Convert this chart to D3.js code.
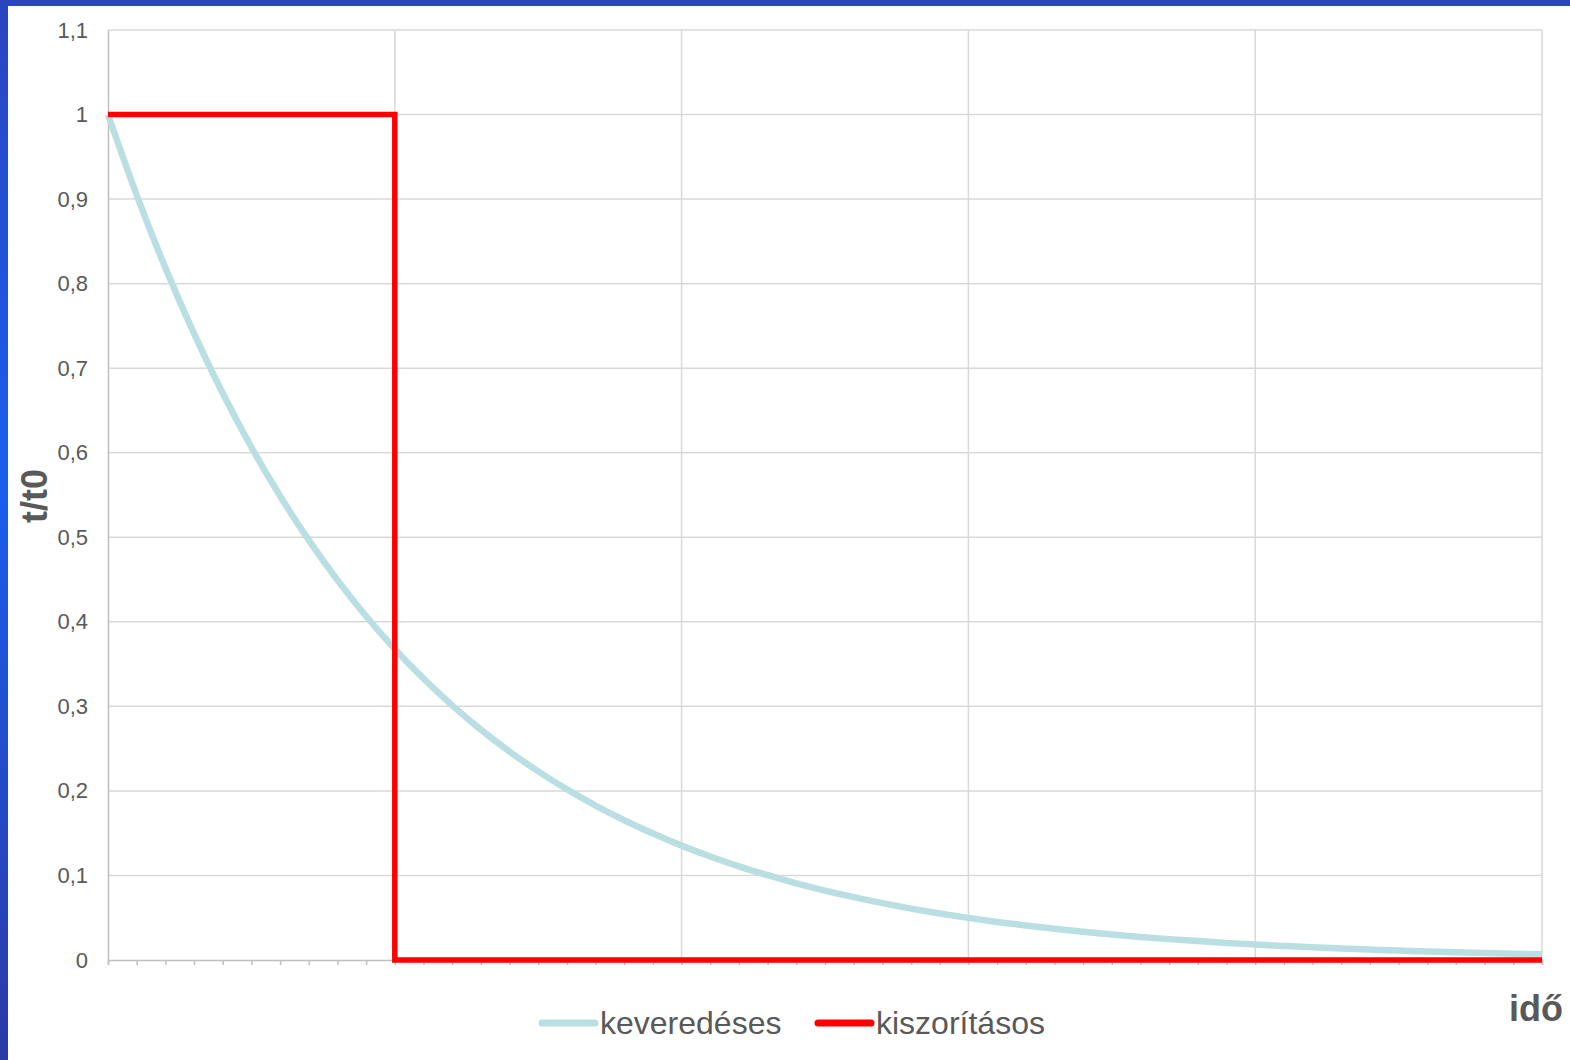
<!DOCTYPE html>
<html>
<head>
<meta charset="utf-8">
<script src="https://cdn.jsdelivr.net/npm/d3@7"></script>
<style>
  body { margin: 0; background: #fff; }
  svg { display: block; font-family: Arial, "Liberation Sans", sans-serif; }
</style>
</head>
<body>
<svg id="chart" width="1570" height="1060"></svg>
<script>
'use strict'

// time axis (in units of mean residence time), sampled every 0.1
const times = [0, 0.1, 0.2, 0.3, 0.4, 0.5, 0.6, 0.7, 0.8, 0.9,
  1, 1.1, 1.2, 1.3, 1.4, 1.5, 1.6, 1.7, 1.8, 1.9,
  2, 2.1, 2.2, 2.3, 2.4, 2.5, 2.6, 2.7, 2.8, 2.9,
  3, 3.1, 3.2, 3.3, 3.4, 3.5, 3.6, 3.7, 3.8, 3.9,
  4, 4.1, 4.2, 4.3, 4.4, 4.5, 4.6, 4.7, 4.8, 4.9, 5];

const keveredeses = [1, 0.9048, 0.8187, 0.7408, 0.6703, 0.6065, 0.5488, 0.4966, 0.4493, 0.4066,
  0.3679, 0.3329, 0.3012, 0.2725, 0.2466, 0.2231, 0.2019, 0.1827, 0.1653, 0.1496,
  0.1353, 0.1225, 0.1108, 0.1003, 0.0907, 0.0821, 0.0743, 0.0672, 0.0608, 0.0550,
  0.0498, 0.0450, 0.0408, 0.0369, 0.0334, 0.0302, 0.0273, 0.0247, 0.0224, 0.0202,
  0.0183, 0.0166, 0.0150, 0.0136, 0.0123, 0.0111, 0.0101, 0.0091, 0.0082, 0.0074, 0.0067];

const kiszoritasosX = [0, 1, 1, 5];
const kiszoritasosY = [1, 1, 0, 0];

const yTicks = [0, 0.1, 0.2, 0.3, 0.4, 0.5, 0.6, 0.7, 0.8, 0.9, 1, 1.1];
const xGrid = [0, 1, 2, 3, 4, 5];

const seriesNames = ['keveredéses', 'kiszorításos'];
const seriesColors = ['#b9dfe2', '#ff0000'];

const svg = d3.select('#chart');

// blue frame (top and left)
const defs = svg.append('defs');
const grad = defs.append('linearGradient')
    .attr('id', 'leftGrad')
    .attr('x1', 0).attr('y1', 0).attr('x2', 0).attr('y2', 1);
grad.append('stop').attr('offset', '0%').attr('stop-color', '#2a45bf');
grad.append('stop').attr('offset', '45%').attr('stop-color', '#1a5ef0');
grad.append('stop').attr('offset', '100%').attr('stop-color', '#2b3aa5');

svg.append('rect').attr('x', 0).attr('y', 0).attr('width', 1570).attr('height', 6)
    .style('fill', '#2a45bf');
svg.append('rect').attr('x', 0).attr('y', 0).attr('width', 8).attr('height', 1060)
    .style('fill', 'url(#leftGrad)');

const plotLeft = 108, plotRight = 1542, plotTop = 30, plotBottom = 960;

const x = d3.scaleLinear().domain([0, 5]).range([plotLeft, plotRight]);
const y = d3.scaleLinear().domain([0, 1.1]).range([plotBottom, plotTop]);

// grid
svg.append('g').selectAll('line')
    .data(yTicks.filter(d => d > 0))
    .enter().append('line')
    .attr('x1', plotLeft).attr('x2', plotRight)
    .attr('y1', d => y(d)).attr('y2', d => y(d))
    .style('stroke', '#d9d9d9').style('stroke-width', 1.5);

svg.append('g').selectAll('line')
    .data(xGrid.filter(d => d > 0))
    .enter().append('line')
    .attr('x1', d => x(d)).attr('x2', d => x(d))
    .attr('y1', plotTop).attr('y2', plotBottom)
    .style('stroke', '#d9d9d9').style('stroke-width', 1.5);

// y axis
const yAxis = svg.append('g')
    .attr('transform', `translate(${plotLeft},0)`)
    .call(d3.axisLeft(y).tickValues(yTicks).tickSize(0).tickPadding(20)
        .tickFormat(d => d3.format('.1~f')(d).replace('.', ',')));
yAxis.select('.domain').style('stroke', '#bfbfbf').style('stroke-width', 1.5);
yAxis.selectAll('text').style('font-size', '22px').style('fill', '#595959')
    .style('font-family', 'Arial, "Liberation Sans", sans-serif');

// x axis with minor ticks
const xAxis = svg.append('g')
    .attr('transform', `translate(0,${plotBottom})`)
    .call(d3.axisBottom(x).tickValues(times).tickSize(5).tickFormat(''));
xAxis.select('.domain').style('stroke', '#bfbfbf').style('stroke-width', 1.5);
xAxis.selectAll('line').style('stroke', '#bfbfbf').style('stroke-width', 1.5);

// series
const curve = d3.line()
    .x((d, i) => x(times[i]))
    .y(d => y(d))
    .curve(d3.curveMonotoneX);

svg.append('path')
    .datum(keveredeses)
    .attr('d', curve)
    .style('fill', 'none')
    .style('stroke', seriesColors[0])
    .style('stroke-width', 6.5);

const step = d3.line()
    .x((d, i) => x(kiszoritasosX[i]))
    .y(d => y(d));

svg.append('path')
    .datum(kiszoritasosY)
    .attr('d', step)
    .style('fill', 'none')
    .style('stroke', seriesColors[1])
    .style('stroke-width', 5.5);

// axis titles
svg.append('text')
    .attr('transform', 'translate(47,496) rotate(-90)')
    .attr('text-anchor', 'middle')
    .style('font-size', '36px').style('font-weight', 'bold').style('fill', '#595959')
    .text('t/t0');

svg.append('text')
    .attr('x', 1563).attr('y', 1021)
    .attr('text-anchor', 'end')
    .style('font-size', '36px').style('font-weight', 'bold').style('fill', '#595959')
    .text('idő');

// legend
const legendX = [542, 818];
const legend = svg.append('g').selectAll('g')
    .data(seriesNames)
    .enter().append('g')
    .attr('transform', (d, i) => `translate(${legendX[i]},1023)`);

legend.append('line')
    .attr('x1', 0).attr('x2', 53)
    .style('stroke', (d, i) => seriesColors[i])
    .style('stroke-width', 7)
    .style('stroke-linecap', 'round');

legend.append('text')
    .attr('x', 58).attr('y', 11)
    .style('font-size', '32px').style('fill', '#595959')
    .text(d => d);
</script>
</body>
</html>
